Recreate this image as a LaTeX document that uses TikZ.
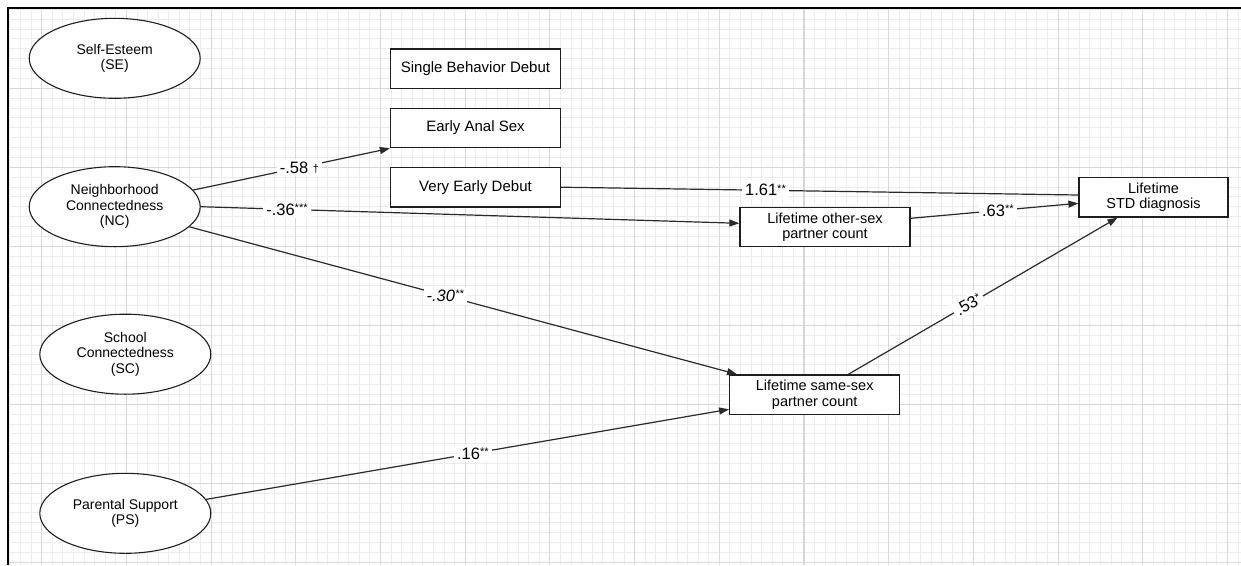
\documentclass[tikz,border=0pt]{standalone}
\usepackage{fontspec}
\setmainfont{Liberation Sans}
\usetikzlibrary{shapes.geometric,arrows.meta}
\definecolor{gminor}{HTML}{ECECEC}
\definecolor{gmajor}{HTML}{D8D8D8}
\definecolor{edgec}{HTML}{2A2A2A}
\definecolor{nodeb}{HTML}{1E1E1E}
\newcommand{\sig}[1]{\raisebox{3.5pt}{\fontsize{11}{11}\selectfont #1}}
\newcommand{\dg}{\raisebox{0.5pt}{\fontsize{11}{11}\selectfont †}}
\begin{document}
\begin{tikzpicture}[x=1pt,y=-1pt,
  gridminor/.style={draw=gminor, line width=0.9pt},
  gridmajor/.style={draw=gmajor, line width=1.1pt},
  latent/.style={ellipse, draw=nodeb, line width=1.1pt, fill=white,
    minimum width=171pt, minimum height=80pt, inner sep=0pt, align=center,
    font=\fontsize{14}{15.5}\selectfont},
  obs/.style={rectangle, draw=nodeb, line width=1.3pt, fill=white,
    minimum width=170pt, minimum height=39.5pt, inner sep=0pt, align=center,
    font=\fontsize{14.5}{15.5}\selectfont},
  sem/.style={draw=edgec, line width=1.2pt, -{Triangle[length=10pt,width=7pt]}},
  semline/.style={draw=edgec, line width=1.2pt},
  coef/.style={fill=white, inner sep=3pt, font=\fontsize{16.5}{16.5}\selectfont, text=black}]
\useasboundingbox (0,0) rectangle (1241,565);
\fill[white] (0,0) rectangle (1241,565);
% grid
\foreach \k in {-3,...,113} \draw[gridminor] ({41.7+10.5875*\k},8) -- ({41.7+10.5875*\k},565);
\foreach \k in {-8,...,48} \draw[gridminor] (8,{88.3+9.875*\k}) -- (1241,{88.3+9.875*\k});
\foreach \k in {0,...,14} \draw[gridmajor] ({41.7+84.7*\k},8) -- ({41.7+84.7*\k},565);
\foreach \k in {0,...,6} \draw[gridmajor] (8,{88.3+79*\k}) -- (1241,{88.3+79*\k});
% border
\draw[line width=2pt, black] (8,565) -- (8,8) -- (1241,8);
% latent variables
\node[latent] (SE) at (114.7,58.3) {Self-Esteem\\(SE)};
\node[latent] (NC) at (114.7,206.7) {Neighborhood\\Connectedness\\(NC)};
\node[latent] (SC) at (125.3,354.2) {School\\Connectedness\\(SC)};
\node[latent] (PS) at (125.3,513.3) {Parental Support\\(PS)};
% observed variables
\node[obs, font=\fontsize{15}{16}\selectfont] (SBD) at (475.5,68.7) {Single Behavior Debut};
\node[obs, font=\fontsize{15}{16}\selectfont] (EAS) at (475.5,128) {Early Anal Sex};
\node[obs, font=\fontsize{15}{16}\selectfont] (VED) at (475.5,187.2) {Very Early Debut};
\node[obs] (OS) at (825,227) {Lifetime other-sex\\partner count};
\node[obs, minimum width=149pt] (STD) at (1153.5,197.3) {Lifetime\\STD diagnosis};
\node[obs] (SS) at (814.7,394.7) {Lifetime same-sex\\partner count};
% paths
\draw[sem] (NC) -- node[coef,pos=0.54]{-.58 \dg} (EAS.south west);
\draw[sem] (NC.east) -- node[coef,pos=0.16]{-.36\sig{***}} ([yshift=3.7pt]OS.west);
\draw[semline] (VED.east) -- node[coef,pos=0.395]{1.61\sig{**}} ([yshift=2.3pt]STD.west);
\draw[sem] ([yshift=8.7pt]OS.east) -- node[coef,pos=0.52]{.63\sig{**}} ([yshift=-6pt]STD.west);
\draw[sem] (NC) -- node[coef,pos=0.467,font=\fontsize{16.5}{16.5}\selectfont\itshape]{-.30\sig{**}} ([xshift=8pt]SS.north west);
\draw[sem] ([xshift=33.6pt]SS.north) -- node[coef,pos=0.446,sloped]{.53\sig{*}} ([xshift=-36pt]STD.south);
\draw[sem] (PS) -- node[coef,pos=0.51]{.16\sig{**}} ([yshift=-14.6pt]SS.west);
\end{tikzpicture}
\end{document}
